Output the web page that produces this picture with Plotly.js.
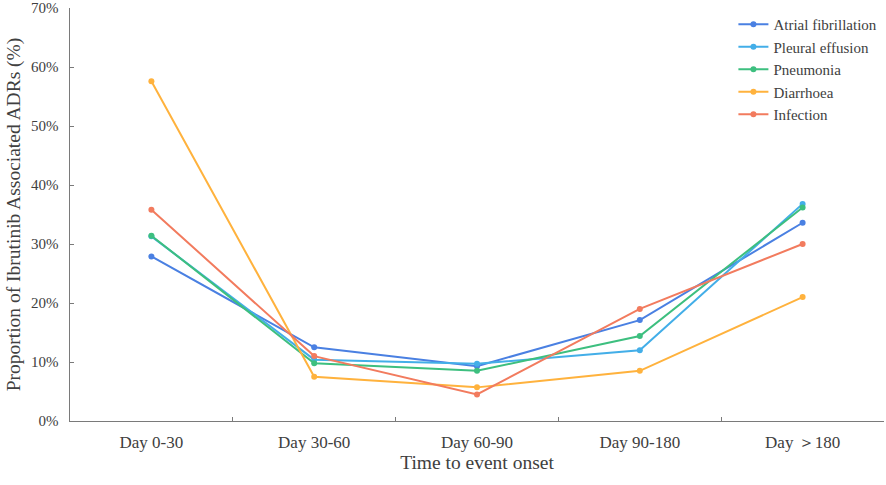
<!DOCTYPE html>
<html>
<head>
<meta charset="utf-8">
<script src="https://cdn.plot.ly/plotly-3.0.1.min.js"></script>
<style>
  html, body { margin: 0; padding: 0; background: #fff; }
  #chart { width: 886px; height: 485px; }
</style>
</head>
<body>
<div id="chart"></div>
<script>
// time windows after starting ibrutinib
const periods = ['Day 0-30', 'Day 30-60', 'Day 60-90', 'Day 90-180', 'Day \uFF1E180'];

// proportion of each ADR per window (%)
const atrialFibrillation = [27.9, 12.5, 9.3, 17.1, 33.6];
const pleuralEffusion   = [31.3, 10.4, 9.7, 12.0, 36.8];
const pneumonia         = [31.4, 9.8, 8.5, 14.4, 36.2];
const diarrhoea         = [57.6, 7.5, 5.7, 8.5, 21.0];
const infection         = [35.8, 11.0, 4.5, 19.0, 30.0];

const yTicks = [0, 10, 20, 30, 40, 50, 60, 70];

function makeTrace(name, values, color) {
    return {
        x: periods,
        y: values,
        name: name,
        type: 'scatter',
        mode: 'lines+markers',
        line: { color: color, width: 2 },
        marker: { color: color, size: 6 },
        hovertemplate: '%{x}: %{y}%<extra>' + name + '</extra>'
    };
}

let data = [
    makeTrace('Atrial fibrillation', atrialFibrillation, '#4a80e2'),
    makeTrace('Pleural effusion', pleuralEffusion, '#43aee8'),
    makeTrace('Pneumonia', pneumonia, '#3dbf7f'),
    makeTrace('Diarrhoea', diarrhoea, '#ffb23d'),
    makeTrace('Infection', infection, '#f27b5e')
];

let font = 'Liberation Serif, Times New Roman, serif';

let layout = {
    width: 886,
    height: 485,
    margin: { l: 70, r: 2, t: 8, b: 64 },
    paper_bgcolor: '#fff',
    plot_bgcolor: '#fff',
    font: { family: font, size: 15, color: '#404040' },
    showlegend: true,
    legend: {
        x: 0.815,
        y: 1.0,
        xanchor: 'left',
        yanchor: 'top',
        bgcolor: 'rgba(0,0,0,0)',
        font: { family: font, size: 15, color: '#404040' }
    },
    xaxis: {
        type: 'category',
        range: [-0.5, 4.5],
        showline: true,
        linecolor: '#7a7a7a',
        linewidth: 1,
        showgrid: false,
        zeroline: false,
        ticks: 'inside',
        tickson: 'boundaries',
        ticklen: 4,
        tickcolor: '#7a7a7a',
        ticklabelstandoff: 6,
        tickfont: { family: font, size: 17, color: '#404040' },
        title: {
            text: 'Time to event onset',
            font: { family: font, size: 19.5, color: '#404040' },
            standoff: 3
        }
    },
    yaxis: {
        range: [0, 70],
        tickvals: yTicks,
        // non-breaking spaces push the labels away from the axis line
        ticktext: yTicks.map(v => v + '%\u00a0\u00a0'),
        showline: true,
        linecolor: '#7a7a7a',
        linewidth: 1,
        showgrid: false,
        zeroline: false,
        ticks: 'inside',
        ticklen: 4,
        tickcolor: '#7a7a7a',
        tickfont: { family: font, size: 15, color: '#404040' },
        title: {
            text: 'Proportion of Ibrutinib Associated ADRs (%)',
            font: { family: font, size: 19.5, color: '#404040' },
            standoff: 5
        }
    }
};

Plotly.newPlot('chart', data, layout, { displayModeBar: false, staticPlot: true });
</script>
</body>
</html>
